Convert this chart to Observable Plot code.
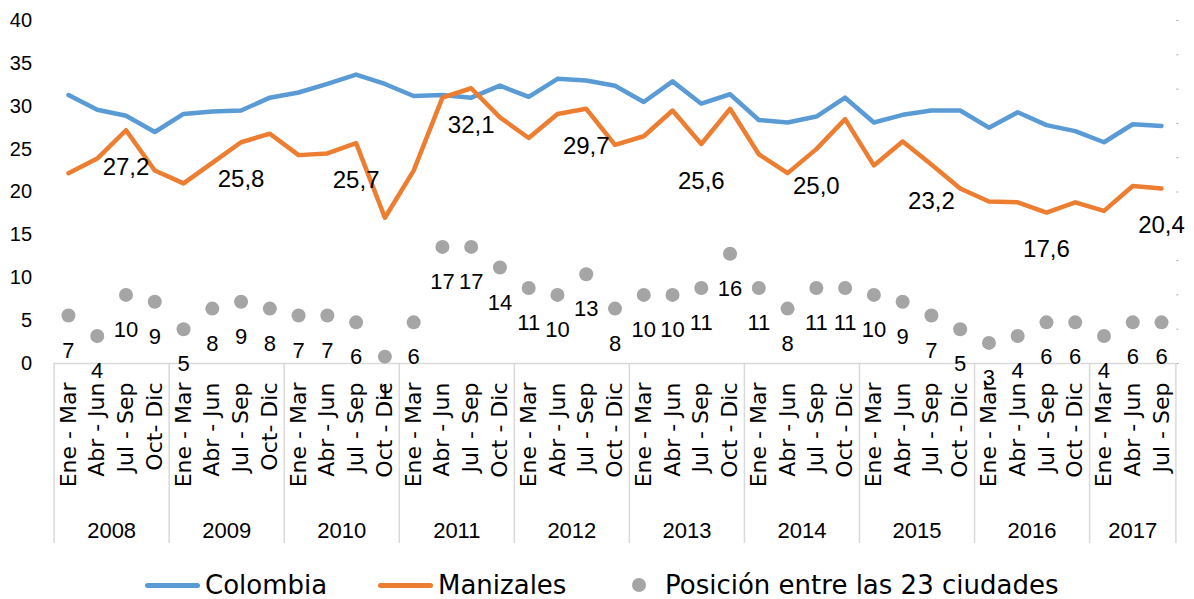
<!DOCTYPE html>
<html>
<head>
<meta charset="utf-8">
<script src="https://cdn.jsdelivr.net/npm/d3@7"></script>
<script src="https://cdn.jsdelivr.net/npm/@observablehq/plot@0.6"></script>
<style>
  html, body { margin: 0; padding: 0; background: #fff; color: #000; overflow: hidden; }
  #chart { position: relative; width: 1194px; height: 599px; }
  .legend { position: absolute; top: 560px; left: 0; width: 1194px; height: 50px; font-family: "DejaVu Sans", sans-serif; font-size: 26px; }
  .legend .item { position: absolute; top: 0; height: 50px; display: flex; align-items: center; }
  .legend .swatch-line { width: 55px; height: 5px; border-radius: 3px; margin-right: 5px; }
  .legend .swatch-dot { width: 14px; height: 14px; border-radius: 50%; background: #a5a5a5; margin-right: 19px; }
</style>
</head>
<body>
<div id="chart"></div>
<script>
// ---- Data ----
const years = ["2008","2009","2010","2011","2012","2013","2014","2015","2016","2017"];
const quarterLabels = [
  "Ene - Mar","Abr - Jun","Jul - Sep","Oct- Dic",
  "Ene - Mar","Abr - Jun","Jul - Sep","Oct- Dic",
  "Ene - Mar","Abr - Jun","Jul - Sep","Oct - Dic",
  "Ene - Mar","Abr - Jun","Jul - Sep","Oct - Dic",
  "Ene - Mar","Abr - Jun","Jul - Sep","Oct - Dic",
  "Ene - Mar","Abr - Jun","Jul - Sep","Oct - Dic",
  "Ene - Mar","Abr - Jun","Jul - Sep","Oct - Dic",
  "Ene - Mar","Abr - Jun","Jul - Sep","Oct - Dic",
  "Ene - Mar","Abr - Jun","Jul - Sep","Oct - Dic",
  "Ene - Mar","Abr - Jun","Jul - Sep"
];
const colombia = [
  31.3, 29.6, 28.9, 27.0,
  29.1, 29.4, 29.5, 31.0,
  31.6, 32.6, 33.7, 32.6,
  31.2, 31.3, 31.0, 32.4,
  31.1, 33.2, 33.0, 32.4,
  30.5, 32.9, 30.3, 31.4,
  28.4, 28.1, 28.8, 31.0,
  28.1, 29.0, 29.5, 29.5,
  27.5, 29.3, 27.8, 27.1,
  25.8, 27.9, 27.7
];
const manizales = [
  22.2, 23.9, 27.2, 22.5,
  21.0, 23.4, 25.8, 26.8,
  24.3, 24.5, 25.7, 17.0,
  22.5, 31.0, 32.1, 28.7,
  26.3, 29.1, 29.7, 25.5,
  26.5, 29.5, 25.6, 29.7,
  24.4, 22.2, 25.0, 28.5,
  23.1, 25.9, 23.2, 20.4,
  18.9, 18.8, 17.6, 18.8,
  17.8, 20.7, 20.4
];
const posicion = [
  7, 4, 10, 9,
  5, 8, 9, 8,
  7, 7, 6, 1,
  6, 17, 17, 14,
  11, 10, 13, 8,
  10, 10, 11, 16,
  11, 8, 11, 11,
  10, 9, 7, 5,
  3, 4, 6, 6,
  4, 6, 6
];
const leftAxisMax = 40;   // primary axis 0–40
const rightAxisMax = 50;  // secondary axis 0–50 (positions)

// ---- Derived tables ----
const rows = quarterLabels.map((q, i) => ({
  i, q, year: years[Math.floor(i / 4)],
  colombia: colombia[i], manizales: manizales[i],
  pos: posicion[i], posY: posicion[i] * leftAxisMax / rightAxisMax
}));
const yearRows = years.map((y, k) => {
  const idx = rows.filter(r => r.year === y).map(r => r.i);
  return { year: y, center: (idx[0] + idx[idx.length - 1]) / 2 };
});
const boundaries = years.map((y, k) => k * 4 - 0.5).concat([quarterLabels.length - 0.5]);
const fmt = v => v.toFixed(1).replace(".", ",");

const numFont = "Liberation Sans, Arial, sans-serif";
const txtFont = "DejaVu Sans, sans-serif";

const plot = Plot.plot({
  width: 1194,
  height: 560,
  marginLeft: 53.6,
  marginRight: 18.6,
  marginTop: 20,
  marginBottom: 197,
  style: { background: "transparent", color: "#000", overflow: "visible" },
  x: { type: "linear", domain: [-0.5, quarterLabels.length - 0.5], axis: null },
  y: { domain: [0, leftAxisMax], axis: null },
  marks: [
    Plot.axisY({ ticks: d3.range(0, leftAxisMax + 1, 5), tickSize: 0, tickPadding: 22, fontSize: 20, fontFamily: numFont }),
    Plot.axisY({ anchor: "right", ticks: d3.range(0, leftAxisMax + 1, leftAxisMax / 10), tickSize: 2, tickFormat: () => "", stroke: "#a6a6a6" }),
    Plot.ruleY([0], { stroke: "#d9d9d9", strokeWidth: 1.5 }),
    Plot.ruleX(boundaries, { y1: 0, y2: 0, insetBottom: -180, stroke: "#d9d9d9", strokeWidth: 1.5 }),
    // quarter tick labels
    Plot.text(rows, { x: "i", y: () => 0, text: "q", rotate: -90, textAnchor: "end", lineAnchor: "middle", dy: 19, fontSize: 22, fontFamily: txtFont, fill: "#000" }),
    // year labels
    Plot.text(yearRows, { x: "center", y: () => 0, text: "year", dy: 167, fontSize: 22, fontFamily: numFont, fill: "#000" }),
    // lines
    Plot.line(rows, { x: "i", y: "colombia", stroke: "#5b9bd5", strokeWidth: 4.5, strokeLinejoin: "round", strokeLinecap: "round" }),
    Plot.line(rows, { x: "i", y: "manizales", stroke: "#ed7d31", strokeWidth: 4.5, strokeLinejoin: "round", strokeLinecap: "round" }),
    // position dots
    Plot.dot(rows, { x: "i", y: "posY", r: 7, fill: "#a5a5a5", stroke: null }),
    Plot.text(rows, { x: "i", y: "posY", text: d => String(d.pos), dy: 35, fontSize: 22, fontFamily: numFont, fill: "#000" }),
    // Manizales value labels (Jul - Sep each year)
    Plot.text(rows.filter(r => r.i % 4 === 2), { x: "i", y: "manizales", text: d => fmt(d.manizales), dy: 37, fontSize: 24, fontFamily: numFont, fill: "#000" })
  ]
});

const chart = document.getElementById("chart");
chart.appendChild(plot);

const legend = document.createElement("div");
legend.className = "legend";
legend.innerHTML = `
  <div class="item" style="left:145px"><div class="swatch-line" style="background:#5b9bd5"></div><span>Colombia</span></div>
  <div class="item" style="left:378px"><div class="swatch-line" style="background:#ed7d31"></div><span>Manizales</span></div>
  <div class="item" style="left:632px"><div class="swatch-dot"></div><span>Posición entre las 23 ciudades</span></div>
`;
chart.appendChild(legend);
</script>
</body>
</html>
